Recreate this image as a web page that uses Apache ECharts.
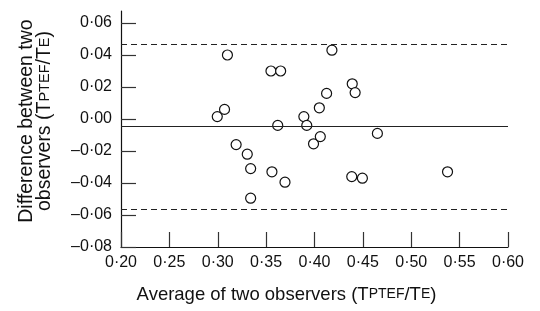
<!DOCTYPE html>
<html>
<head>
    <meta charset="UTF-8">
    <title>Bland-Altman</title>
    <script src="https://cdn.jsdelivr.net/npm/echarts@6/dist/echarts.min.js"></script>
    <style>
        html, body { margin: 0; padding: 0; background: #fff; }
    </style>
</head>
<body>
<div id="main" style="width: 540px;height:311px;"></div>

<script>
    // average of the two observers (x) and their difference (y)
    var avgValues = [0.2995, 0.307, 0.310, 0.319, 0.3305, 0.334, 0.334, 0.355, 0.356, 0.362,
        0.365, 0.3695, 0.389, 0.392, 0.399, 0.405, 0.406, 0.4125, 0.418, 0.4385,
        0.439, 0.442, 0.4495, 0.465, 0.5375];
    var diffValues = [0.0015, 0.006, 0.040, -0.016, -0.022, -0.031, -0.0495, 0.030, -0.033, -0.004,
        0.030, -0.0395, 0.0015, -0.004, -0.0155, 0.007, -0.011, 0.016, 0.043, -0.036,
        0.022, 0.0165, -0.037, -0.009, -0.033];

    var meanDiff = -0.0048;
    var limitsOfAgreement = [0.0465, -0.0561];

    var yTicks = [-0.08, -0.06, -0.04, -0.02, 0.00, 0.02, 0.04, 0.06];

    var font = "'Liberation Sans', Arial, Helvetica, sans-serif";

    function fmt(v) {
        var s = Math.abs(v).toFixed(2).replace('.', '\u00b7');
        return (v < -1e-9 ? '\u2013' : '') + s;
    }

    var points = avgValues.map(function (x, i) { return [x, diffValues[i]]; });

    var myChart = echarts.init(document.getElementById('main'));

    var option = {
        animation: false,
        backgroundColor: '#fff',
        grid: { left: 121, right: 32, top: 11, bottom: 64 },
        xAxis: {
            type: 'value',
            min: 0.2,
            max: 0.6,
            interval: 0.05,
            name: 'Average of two observers ({c|T}{s|PTEF}{c|/T}{s|E})',
            nameLocation: 'middle',
            nameGap: 38,
            nameTextStyle: {
                fontFamily: font, fontSize: 18.5, color: '#111',
                padding: [0, 56, 0, 0],
                rich: {
                    c: { fontFamily: font, fontSize: 18.5, color: '#111' },
                    s: { fontFamily: font, fontSize: 14, color: '#111' }
                }
            },
            axisLine: { onZero: false, lineStyle: { color: '#111', width: 1.2 } },
            axisTick: { inside: true, length: 15, lineStyle: { color: '#333', width: 1.2 } },
            axisLabel: {
                margin: 8,
                fontFamily: font, fontSize: 16, color: '#111',
                formatter: fmt
            },
            splitLine: { show: false }
        },
        yAxis: {
            type: 'value',
            min: -0.08,
            max: 0.0675,
            name: 'Difference between two\nobservers ({c|T}{s|PTEF}{c|/T}{s|E})',
            nameLocation: 'middle',
            nameRotate: 90,
            nameGap: 67,
            nameTextStyle: {
                fontFamily: font, fontSize: 19.5, color: '#111', lineHeight: 18,
                padding: [0, 0, 0, 16],
                rich: {
                    c: { fontFamily: font, fontSize: 19.5, color: '#111', lineHeight: 18 },
                    s: { fontFamily: font, fontSize: 14.5, color: '#111', lineHeight: 18 }
                }
            },
            axisLine: { onZero: false, lineStyle: { color: '#111', width: 1.2 } },
            axisTick: {
                inside: true, length: 15, customValues: yTicks,
                lineStyle: { color: '#333', width: 1.2 }
            },
            axisLabel: {
                margin: 9, customValues: yTicks,
                fontFamily: font, fontSize: 16, color: '#111',
                formatter: fmt
            },
            splitLine: { show: false }
        },
        series: [
            {
                // mean difference and limits of agreement
                type: 'scatter',
                data: [],
                z: 1,
                markLine: {
                    silent: true,
                    symbol: 'none',
                    precision: 4,
                    label: { show: false },
                    data: [
                        { yAxis: meanDiff, lineStyle: { type: 'solid', color: '#222', width: 1.2 } },
                        { yAxis: limitsOfAgreement[0], lineStyle: { type: [6, 4], color: '#222', width: 1.2 } },
                        { yAxis: limitsOfAgreement[1], lineStyle: { type: [6, 4], color: '#222', width: 1.2 } }
                    ]
                }
            },
            {
                type: 'scatter',
                z: 3,
                symbol: 'circle',
                symbolSize: 10,
                itemStyle: { color: '#fff', borderColor: '#111', borderWidth: 1.2, opacity: 1 },
                data: points
            }
        ]
    };

    myChart.setOption(option);
</script>
</body>
</html>
